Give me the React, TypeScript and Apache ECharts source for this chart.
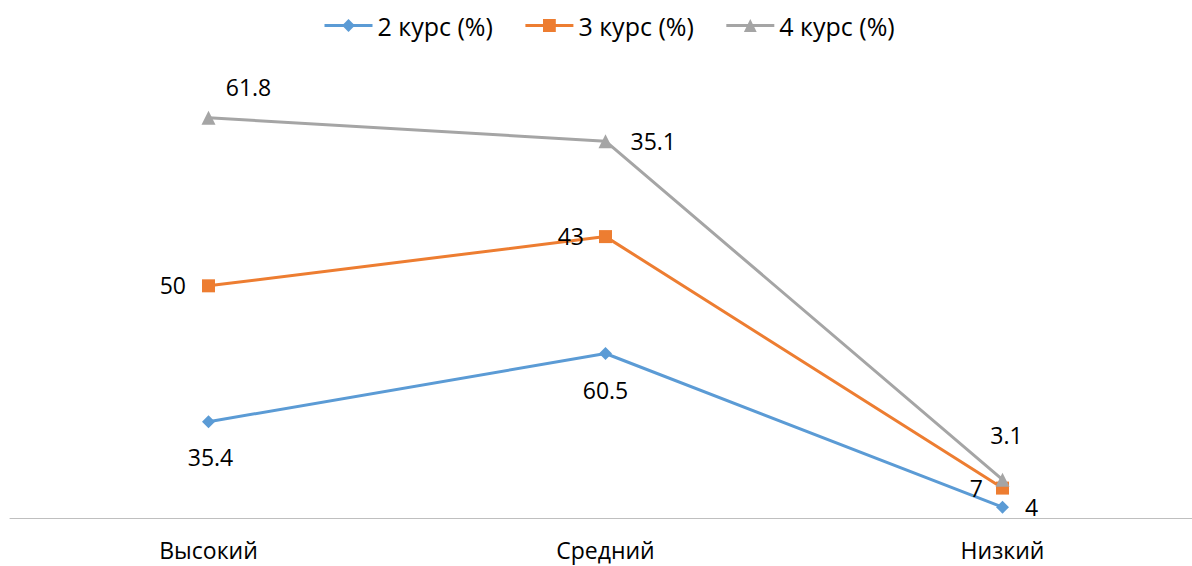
import React, { useEffect, useRef } from "react";
import * as echarts from "echarts";

const categories = ["Высокий", "Средний", "Низкий"];
const seriesNames = ["2 курс (%)", "3 курс (%)", "4 курс (%)"];
const course2 = [35.4, 60.5, 4];
const course3 = [50, 43, 7];
const course4 = [61.8, 35.1, 3.1];

const colors = ["#5B9BD5", "#ED7D31", "#A5A5A5"];
const symbols = ["diamond", "rect", "triangle"];
const symbolSizes = [13, 13, 14];

// label placements per point (styling only)
const labelPlacement: [string, [number, number]][][] = [
  [["bottom", [2, 12]], ["bottom", [0, 13]], ["right", [11, 0]]],
  [["left", [-11, -1]], ["left", [-10, -1]], ["left", [-8, 0]]],
  [["top", [40, -7]], ["right", [13, 0]], ["top", [4, -21]]],
];

const FONT = "'Open Sans', 'Noto Sans', sans-serif";
const FS = 23;

export default function App() {
  const ref = useRef<HTMLDivElement>(null);
  useEffect(() => {
    if (!ref.current) return;
    const chart = echarts.init(ref.current, null, { renderer: "svg" });
    const all = [course2, course3, course4];
    chart.setOption({
      animation: false,
      textStyle: { fontFamily: FONT },
      legend: {
        top: 8,
        left: 318,
        itemWidth: 48,
        itemHeight: 16,
        itemGap: 31,
        lineStyle: { width: 3 },
        textStyle: { fontSize: 25, color: "#000", fontFamily: FONT },
        data: seriesNames,
      },
      grid: { left: 10, width: 1191, top: 83, bottom: 48, outerBoundsMode: "none" },
      xAxis: {
        type: "category",
        data: categories,
        boundaryGap: true,
        axisLine: { lineStyle: { color: "#BFBFBF", width: 1 } },
        axisTick: { show: false },
        axisLabel: { fontSize: FS, lineHeight: 22, color: "#000", margin: 21, fontFamily: FONT },
      },
      yAxis: {
        type: "value",
        min: 0,
        max: 160,
        show: false,
        splitLine: { show: false },
      },
      series: all.map((vals, si) => ({
        name: seriesNames[si],
        type: "line",
        stack: "total",
        symbol: symbols[si],
        symbolSize: symbolSizes[si],
        itemStyle: { color: colors[si] },
        lineStyle: { color: colors[si], width: 3 },
        data: vals.map((v, i) => ({
          value: v,
          label: {
            show: true,
            position: labelPlacement[si][i][0],
            offset: labelPlacement[si][i][1],
            fontSize: FS,
            color: "#000",
            fontFamily: FONT,
            formatter: () => String(v),
          },
        })),
      })),
    });
    return () => chart.dispose();
  }, []);
  return (
    <div
      ref={ref}
      style={{ position: "absolute", left: 0, top: 0, width: 1192, height: 566, background: "#fff" }}
    />
  );
}
